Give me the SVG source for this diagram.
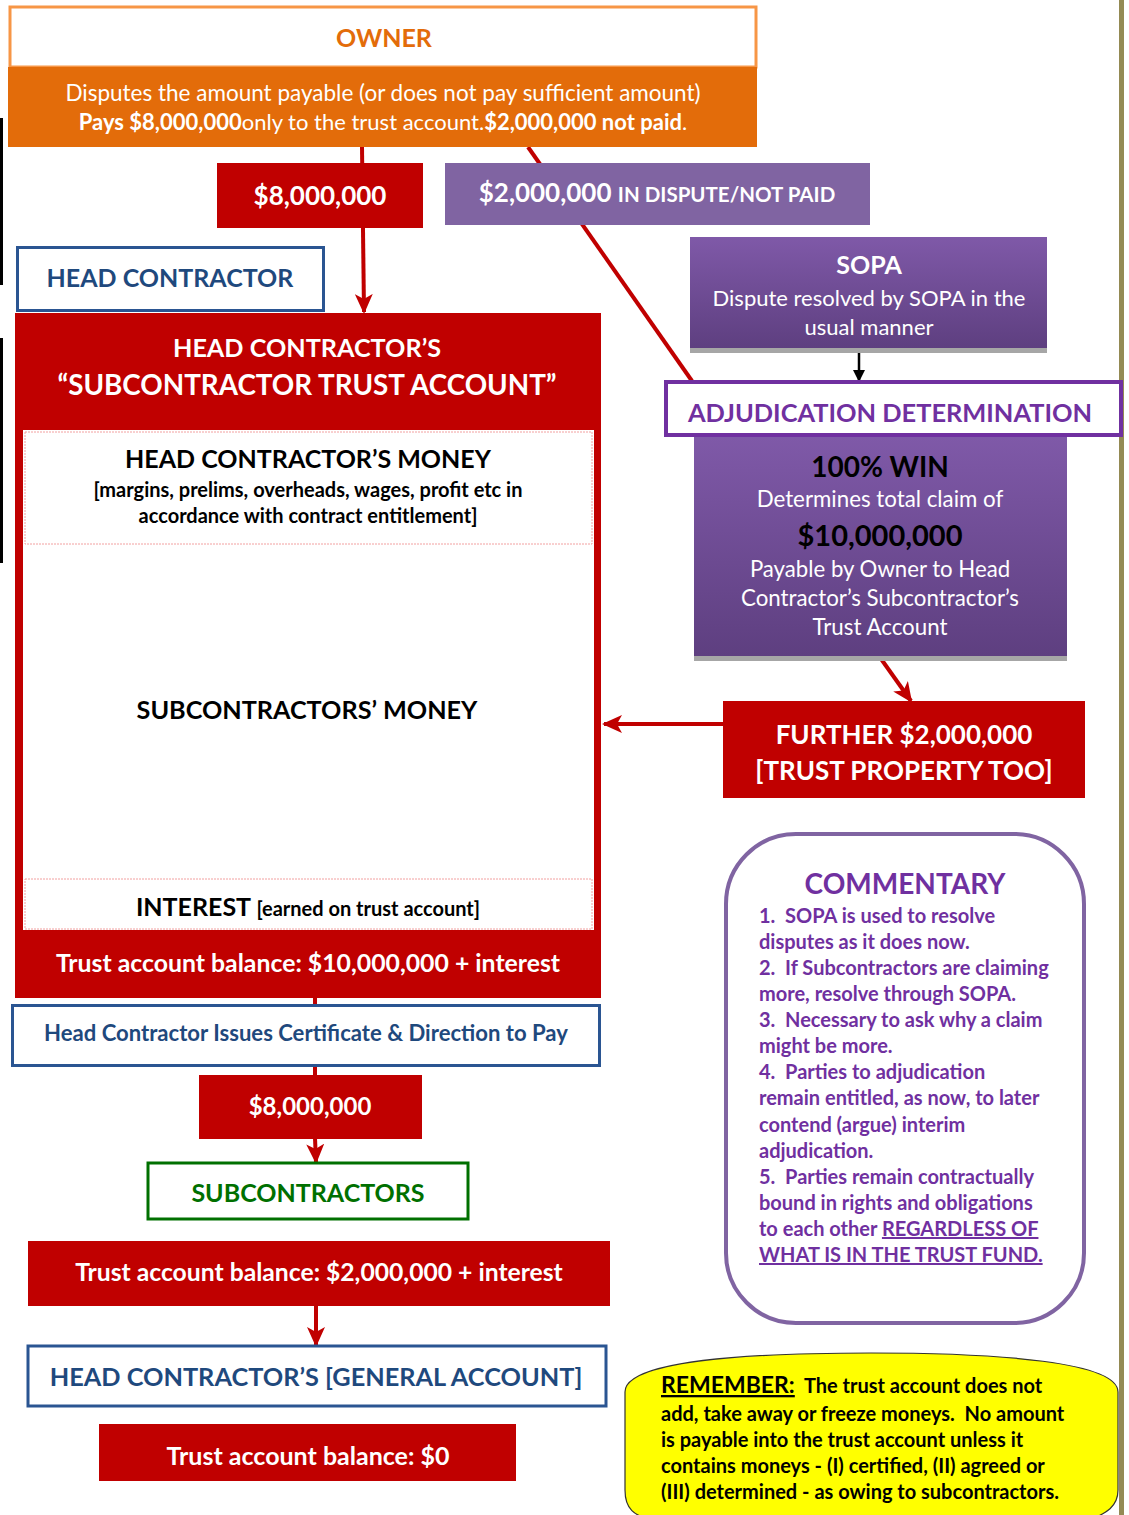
<svg xmlns="http://www.w3.org/2000/svg" width="1129" height="1515" viewBox="0 0 1129 1515">
<defs>
<linearGradient id="pg" x1="0" y1="0" x2="0" y2="1">
<stop offset="0" stop-color="#7f59a8"/>
<stop offset="1" stop-color="#5e3f80"/>
</linearGradient>
<marker id="ab" markerWidth="12" markerHeight="14" refX="10" refY="6" orient="auto" markerUnits="userSpaceOnUse" viewBox="0 0 12 12">
<path d="M0,0 L12,6 L0,12 Z" fill="#000"/>
</marker>
<marker id="arr" markerWidth="20" markerHeight="18" refX="18" refY="9" orient="auto" markerUnits="userSpaceOnUse" viewBox="0 0 20 18">
<path d="M0,0 L20,9 L0,18 L5,9 Z" fill="#c00000"/>
</marker>
</defs>
<style>
text{font-family:Lato,"Open Sans","Liberation Sans",sans-serif;font-weight:bold;text-anchor:middle}
.w{fill:#fff}
.k{fill:#000}
.n{font-weight:normal}
.red{fill:#c00000}
.blue{fill:#fff;stroke:#2a5592;stroke-width:3}
.bt{fill:#1f497d}
.pt{fill:#7030a0}
.link{stroke:#c00000;stroke-width:4;fill:none}
.com{fill:#7030a0;font-size:20px;text-anchor:start}
.rem{fill:#000;font-size:20px;text-anchor:start}
</style>
<rect width="1129" height="1515" fill="#fff"/>
<g id="edges">
<rect x="0" y="118" width="3" height="167" fill="#000"/>
<rect x="0" y="338" width="3" height="225" fill="#000"/>
<rect x="1119" y="0" width="5" height="1515" fill="#948a54"/>
</g>
<g id="connectors">
<line class="link" x1="362" y1="147" x2="364" y2="312" marker-end="url(#arr)"/>
<line class="link" x1="528" y1="147" x2="692" y2="381"/>
<line x1="859" y1="350" x2="859" y2="380" stroke="#000" stroke-width="2.5" marker-end="url(#ab)"/>
<line class="link" x1="879" y1="656" x2="911" y2="701" marker-end="url(#arr)"/>
<line class="link" x1="723" y1="724" x2="604" y2="724" marker-end="url(#arr)"/>
<line class="link" x1="315" y1="996" x2="315" y2="1006"/>
<line class="link" x1="315" y1="1065" x2="315" y2="1076"/>
<line class="link" x1="315" y1="1138" x2="316" y2="1162" marker-end="url(#arr)"/>
<line class="link" x1="316" y1="1305" x2="316" y2="1345" marker-end="url(#arr)"/>
</g>
<g id="owner">
<rect x="10" y="7" width="746" height="60" fill="#fff" stroke="#f79646" stroke-width="3"/>
<text x="384" y="47" style="font-size:25px;fill:#e36c0a">OWNER</text>
<rect x="8" y="67" width="749" height="80" fill="#e36c0a"/>
<text x="383" y="101" class="w n" style="font-size:22.5px">Disputes the amount payable (or does not pay sufficient amount)</text>
<text x="383" y="130" class="w" style="font-size:22px">Pays $8,000,000<tspan class="n">only to the trust account.</tspan>$2,000,000 not paid<tspan class="n">.</tspan></text>
</g>
<g id="pay8m-top">
<rect x="217" y="163" width="206" height="65" class="red"/>
<text x="320" y="205" class="w" style="font-size:26px">$8,000,000</text>
</g>
<g id="dispute">
<rect x="445" y="163" width="425" height="62" fill="#8064a2"/>
<text x="657" y="202" class="w" style="font-size:26px">$2,000,000 <tspan style="font-size:20.5px">IN DISPUTE/NOT PAID</tspan></text>
</g>
<g id="head-contractor">
<rect x="17.5" y="247.5" width="306" height="63" class="blue"/>
<text x="170" y="287" class="bt" style="font-size:25px">HEAD CONTRACTOR</text>
</g>
<g id="trust-account">
<rect x="15" y="313" width="586" height="685" class="red"/>
<rect x="23" y="430" width="571" height="500" fill="#fff"/>
<rect x="25" y="432" width="567" height="112" fill="none" stroke="#f2a0a0" stroke-width="1" stroke-dasharray="2,1"/>
<rect x="25" y="879" width="567" height="50" fill="none" stroke="#f2a0a0" stroke-width="1" stroke-dasharray="2,1"/>
<text x="307" y="357" class="w" style="font-size:25.2px">HEAD CONTRACTOR’S</text>
<text x="307" y="395" class="w" style="font-size:27.8px">“SUBCONTRACTOR TRUST ACCOUNT”</text>
<text x="308" y="468" class="k" style="font-size:25px">HEAD CONTRACTOR’S MONEY</text>
<text x="308" y="497" class="k" style="font-size:20px">[margins, prelims, overheads, wages, profit etc in</text>
<text x="308" y="523" class="k" style="font-size:20px">accordance with contract entitlement]</text>
<text x="307" y="719" class="k" style="font-size:25.2px">SUBCONTRACTORS’ MONEY</text>
<text x="308" y="916" class="k" style="font-size:25px">INTEREST <tspan style="font-size:20px">[earned on trust account]</tspan></text>
<text x="308" y="972" class="w" style="font-size:24.8px">Trust account balance: $10,000,000 + interest</text>
</g>
<g id="certificate">
<rect x="12.5" y="1005.5" width="587" height="60" class="blue"/>
<text x="306" y="1041" class="bt" style="font-size:22.1px">Head Contractor Issues Certificate &amp; Direction to Pay</text>
</g>
<g id="pay8m-bottom">
<rect x="199" y="1075" width="223" height="64" class="red"/>
<text x="310" y="1115" class="w" style="font-size:24px">$8,000,000</text>
</g>
<g id="subcontractors">
<rect x="148" y="1163" width="320" height="56" fill="#fff" stroke="#007000" stroke-width="3"/>
<text x="308" y="1202" style="font-size:25px;fill:#007000">SUBCONTRACTORS</text>
</g>
<g id="balance-2m">
<rect x="28" y="1241" width="582" height="65" class="red"/>
<text x="319" y="1281" class="w" style="font-size:24.7px">Trust account balance: $2,000,000 + interest</text>
</g>
<g id="general-account">
<rect x="28" y="1346" width="578" height="60" class="blue"/>
<text x="316" y="1386" class="bt" style="font-size:25.3px">HEAD CONTRACTOR’S [GENERAL ACCOUNT]</text>
</g>
<g id="balance-0">
<rect x="99" y="1424" width="417" height="57" class="red"/>
<text x="308" y="1465" class="w" style="font-size:25px">Trust account balance: $0</text>
</g>
<g id="sopa">
<rect x="690" y="241" width="357" height="112" fill="#a6a6a6"/>
<rect x="690" y="237" width="357" height="111" fill="url(#pg)"/>
<text x="869" y="274" class="w" style="font-size:25px">SOPA</text>
<text x="869" y="306" class="w n" style="font-size:22px">Dispute resolved by SOPA in the</text>
<text x="869" y="335" class="w n" style="font-size:22px">usual manner</text>
</g>
<g id="adjudication">
<rect x="666" y="382" width="455" height="53" fill="#fff" stroke="#7030a0" stroke-width="4"/>
<text x="890" y="422" class="pt" style="font-size:25.4px">ADJUDICATION DETERMINATION</text>
</g>
<g id="win">
<rect x="694" y="440" width="373" height="221" fill="#a6a6a6"/>
<rect x="694" y="437" width="373" height="219" fill="url(#pg)"/>
<text x="880" y="477" class="k" style="font-size:28px">100% WIN</text>
<text x="880" y="507" class="w n" style="font-size:22.3px">Determines total claim of</text>
<text x="880" y="546" class="k" style="font-size:29px">$10,000,000</text>
<text x="880" y="577" class="w n" style="font-size:22.2px">Payable by Owner to Head</text>
<text x="880" y="606" class="w n" style="font-size:22.3px">Contractor’s Subcontractor’s</text>
<text x="880" y="635" class="w n" style="font-size:22.3px">Trust Account</text>
</g>
<g id="further">
<rect x="723" y="701" width="362" height="97" class="red"/>
<text x="904" y="744" class="w" style="font-size:26px">FURTHER $2,000,000</text>
<text x="904" y="780" class="w" style="font-size:26px">[TRUST PROPERTY TOO]</text>
</g>
<g id="commentary">
<rect x="726" y="834" width="358" height="489" rx="70" ry="70" fill="#fff" stroke="#8064a2" stroke-width="4"/>
<text x="905" y="894" class="pt" style="font-size:28px">COMMENTARY</text>
<text class="com" x="759" y="923">1.&#160; SOPA is used to resolve</text>
<text class="com" x="759" y="949">disputes as it does now.</text>
<text class="com" x="759" y="975">2.&#160; If Subcontractors are claiming</text>
<text class="com" x="759" y="1001">more, resolve through SOPA.</text>
<text class="com" x="759" y="1027">3.&#160; Necessary to ask why a claim</text>
<text class="com" x="759" y="1053">might be more.</text>
<text class="com" x="759" y="1079">4.&#160; Parties to adjudication</text>
<text class="com" x="759" y="1105">remain entitled, as now, to later</text>
<text class="com" x="759" y="1132">contend (argue) interim</text>
<text class="com" x="759" y="1158">adjudication.</text>
<text class="com" x="759" y="1184">5.&#160; Parties remain contractually</text>
<text class="com" x="759" y="1210">bound in rights and obligations</text>
<text class="com" x="759" y="1236">to each other <tspan text-decoration="underline">REGARDLESS OF</tspan></text>
<text class="com" x="759" y="1262" text-decoration="underline">WHAT IS IN THE TRUST FUND.</text>
</g>
<g id="remember">
<path d="M625,1392 C625,1362 740,1353 871,1353 C1000,1353 1118,1362 1118,1392 L1118,1490 C1118,1510 1100,1515 1090,1520 L650,1520 C635,1515 625,1510 625,1490 Z" fill="#ffff00" stroke="#333" stroke-width="1.2"/>
<text class="rem" x="661" y="1393"><tspan style="font-size:23px" text-decoration="underline">REMEMBER:</tspan>&#160; The trust account does not</text>
<text class="rem" x="661" y="1421">add, take away or freeze moneys.&#160; No amount</text>
<text class="rem" x="661" y="1447">is payable into the trust account unless it</text>
<text class="rem" x="661" y="1473">contains moneys - (I) certified, (II) agreed or</text>
<text class="rem" x="661" y="1499">(III) determined - as owing to subcontractors.</text>
</g>
</svg>
